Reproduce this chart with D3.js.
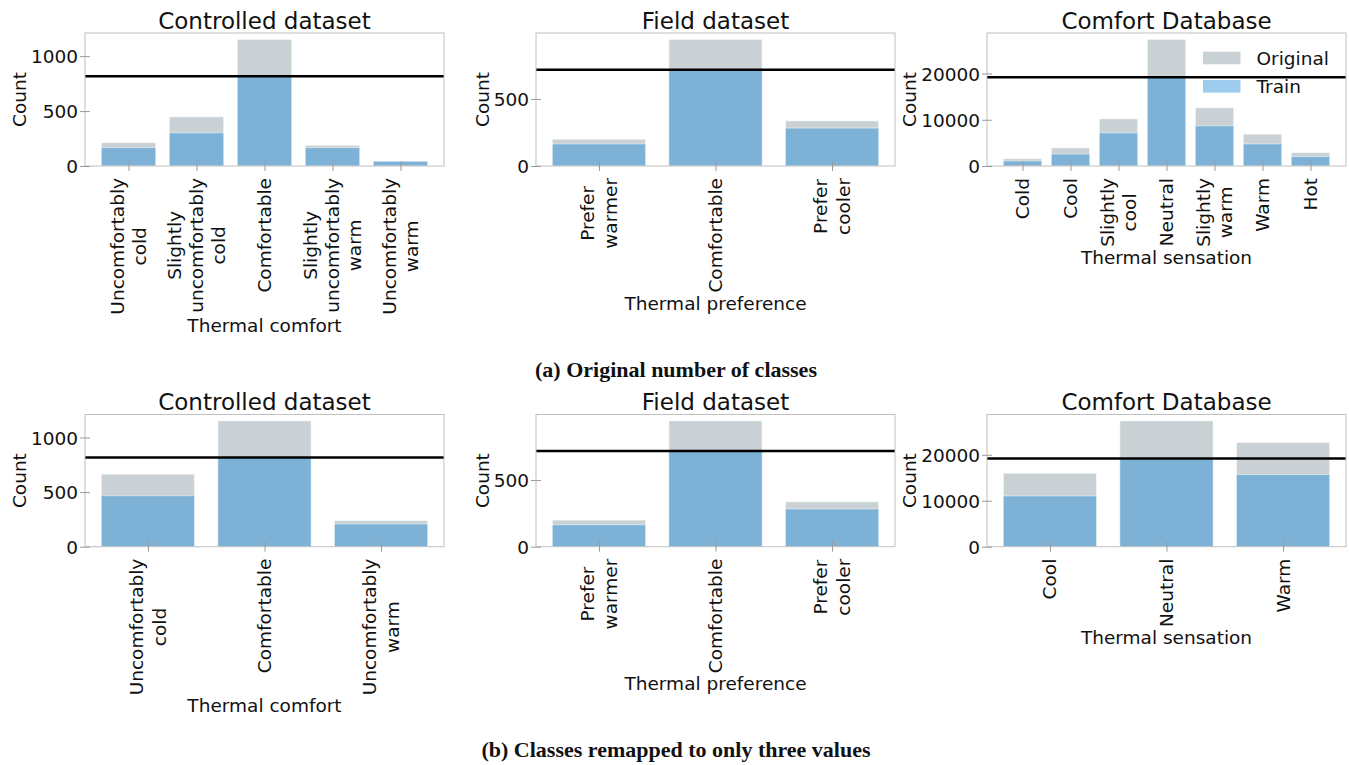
<!DOCTYPE html>
<html>
<head>
<meta charset="utf-8">
<script src="https://cdn.jsdelivr.net/npm/d3@7/dist/d3.min.js"></script>
<style>
  html, body { margin: 0; padding: 0; background: #fff; }
  svg { display: block; }
  text { font-family: "DejaVu Sans", sans-serif; fill: #111; }
</style>
</head>
<body>
<svg id="chart" width="1349" height="765"></svg>
<script>
// ---------------- data ----------------
const comfortCats = ["Uncomfortably\ncold", "Slightly\nuncomfortably\ncold", "Comfortable", "Slightly\nuncomfortably\nwarm", "Uncomfortably\nwarm"];
const comfortOrig = [213, 448, 1153, 189, 43];
const comfortTrain = [167, 302, 817, 167, 43];
const comfortThreshold = 817;

const prefCats = ["Prefer\nwarmer", "Comfortable", "Prefer\ncooler"];
const prefOrig = [200, 945, 337];
const prefTrain = [165, 718, 283];
const prefThreshold = 718;

const sensCats = ["Cold", "Cool", "Slightly\ncool", "Neutral", "Slightly\nwarm", "Warm", "Hot"];
const sensOrig = [1590, 3913, 10217, 27391, 12609, 6884, 2899];
const sensTrain = [1090, 2609, 7174, 19196, 8696, 4783, 2029];
const sensThreshold = 19196;

const comfort3Cats = ["Uncomfortably\ncold", "Comfortable", "Uncomfortably\nwarm"];
const comfort3Orig = [665, 1153, 240];
const comfort3Train = [467, 817, 208];

const pref3Cats = ["Prefer\nwarmer", "Comfortable", "Prefer\ncooler"];
const pref3Orig = [200, 945, 337];
const pref3Train = [165, 718, 283];

const sens3Cats = ["Cool", "Neutral", "Warm"];
const sens3Orig = [16000, 27391, 22700];
const sens3Train = [11050, 19196, 15700];

const comfortTicks = [0, 500, 1000];
const prefTicks = [0, 500];
const sensTicks = [0, 10000, 20000];

const titles = ["Controlled dataset", "Field dataset", "Comfort Database"];
const xLabels = ["Thermal comfort", "Thermal preference", "Thermal sensation"];
const yLabel = "Count";
const legendLabels = ["Original", "Train"];
const captions = ["(a) Original number of classes", "(b) Classes remapped to only three values"];

// ---------------- style ----------------
const COL_ORIG = "#c9d1d4";
const COL_TRAIN = "#7db2d6";
const COL_TRAIN_LEGEND = "#9ccbee";
const FS = 18.5;
const TFS = 23;

const svg = d3.select("#chart");

const panelLefts = [85, 536, 987];
const panelW = 359;
const rows = [
  { top: 33, bottom: 166, caption: captions[0], capY: 377,
    panels: [
      { cats: comfortCats, orig: comfortOrig, train: comfortTrain, thr: comfortThreshold, ticks: comfortTicks },
      { cats: prefCats, orig: prefOrig, train: prefTrain, thr: prefThreshold, ticks: prefTicks },
      { cats: sensCats, orig: sensOrig, train: sensTrain, thr: sensThreshold, ticks: sensTicks, legend: true }
    ] },
  { top: 414.5, bottom: 546.7, caption: captions[1], capY: 757,
    panels: [
      { cats: comfort3Cats, orig: comfort3Orig, train: comfort3Train, thr: comfortThreshold, ticks: comfortTicks },
      { cats: pref3Cats, orig: pref3Orig, train: pref3Train, thr: prefThreshold, ticks: prefTicks },
      { cats: sens3Cats, orig: sens3Orig, train: sens3Train, thr: sensThreshold, ticks: sensTicks }
    ] }
];

rows.forEach(row => {
  const h = row.bottom - row.top;
  row.panels.forEach((p, pi) => {
    const left = panelLefts[pi];
    const g = svg.append("g").attr("transform", `translate(${left},${row.top})`);
    const n = p.cats.length;
    const m = 0.05 * (n - 1 + 0.8);
    const x = d3.scaleLinear().domain([-0.4 - m, n - 1 + 0.4 + m]).range([0, panelW]);
    const y = d3.scaleLinear().domain([0, d3.max(p.orig) * 1.05]).range([h, 0]);
    const idx = d3.range(n);

    // bars
    g.selectAll(".orig").data(idx).join("rect")
      .attr("x", i => x(i - 0.4)).attr("width", x(0.8) - x(0))
      .attr("y", i => y(p.orig[i])).attr("height", i => y(0) - y(p.orig[i]))
      .attr("fill", COL_ORIG).attr("stroke", "#ffffff").attr("stroke-opacity", 0.6).attr("stroke-width", 1);
    g.selectAll(".train").data(idx).join("rect")
      .attr("x", i => x(i - 0.4)).attr("width", x(0.8) - x(0))
      .attr("y", i => y(p.train[i])).attr("height", i => y(0) - y(p.train[i]))
      .attr("fill", COL_TRAIN).attr("stroke", "#ffffff").attr("stroke-opacity", 0.5).attr("stroke-width", 1);

    // threshold line
    g.append("line").attr("x1", 0).attr("x2", panelW)
      .attr("y1", y(p.thr)).attr("y2", y(p.thr))
      .attr("stroke", "#000").attr("stroke-width", 2.6);

    // frame
    g.append("rect").attr("x", 0).attr("y", 0).attr("width", panelW).attr("height", h)
      .attr("fill", "none").attr("stroke", "#c0c0c0").attr("stroke-width", 1);

    // y axis
    const ya = g.append("g").call(d3.axisLeft(y).tickValues(p.ticks).tickSize(5).tickPadding(2).tickFormat(d3.format("d")));
    ya.select(".domain").remove();
    ya.selectAll(".tick line").attr("x1", -5).attr("x2", 5).attr("stroke", "#9a9a9a");
    ya.selectAll(".tick text").attr("font-size", FS).attr("font-family", "DejaVu Sans").attr("fill", "#111").attr("dy", "0.36em");

    // x axis (ticks only; labels drawn as rotated multi-line text)
    const xa = g.append("g").attr("transform", `translate(0,${h})`)
      .call(d3.axisBottom(x).tickValues(idx).tickSize(5).tickFormat(""));
    xa.select(".domain").remove();
    xa.selectAll(".tick line").attr("y1", -5).attr("y2", 5).attr("stroke", "#9a9a9a");

    const labelTop = h + 12;
    let maxBottom = labelTop;
    idx.forEach(i => {
      const lines = p.cats[i].split("\n");
      const k = lines.length;
      const L = FS * 1.2;
      const tg = g.append("g");
      const texts = lines.map((ln, j) => tg.append("text")
        .attr("font-size", FS).attr("text-anchor", "middle")
        .attr("dominant-baseline", "central")
        .text(ln));
      const maxLen = d3.max(texts, t => t.node().getComputedTextLength());
      const cy = labelTop + maxLen / 2;
      texts.forEach((t, j) => {
        const cx = x(i) + (j - (k - 1) / 2) * L;
        t.attr("transform", `translate(${cx},${cy}) rotate(-90)`);
      });
      maxBottom = Math.max(maxBottom, labelTop + maxLen);
    });

    // x label
    g.append("text").attr("x", panelW / 2).attr("y", maxBottom + 17)
      .attr("text-anchor", "middle").attr("font-size", FS).text(xLabels[pi]);

    // y label
    let minX = 0;
    ya.selectAll(".tick text").each(function() {
      const b = this.getBBox();
      minX = Math.min(minX, b.x);
    });
    g.append("text").attr("transform", `translate(${minX - 5},${h / 2}) rotate(-90)`)
      .attr("text-anchor", "middle").attr("font-size", FS).text(yLabel);

    // title
    g.append("text").attr("x", panelW / 2).attr("y", -4.5)
      .attr("text-anchor", "middle").attr("font-size", TFS).text(titles[pi]);

    // legend
    if (p.legend) {
      const lg = g.append("g").attr("transform", `translate(${panelW - 143},0)`);
      const cols = [COL_ORIG, COL_TRAIN_LEGEND];
      legendLabels.forEach((lab, j) => {
        const yy = 25 + j * 28.3;
        lg.append("rect").attr("x", 0).attr("y", yy - 6.3).attr("width", 37.5).attr("height", 12.6).attr("fill", cols[j]);
        lg.append("text").attr("x", 53.5).attr("y", yy).attr("dominant-baseline", "central")
          .attr("font-size", FS).text(lab);
      });
    }
  });

  svg.append("text").attr("x", 676).attr("y", row.capY).attr("text-anchor", "middle")
    .attr("font-weight", "bold").attr("font-size", 22)
    .style("font-family", "'Liberation Serif', serif")
    .text(row.caption);
});
</script>
</body>
</html>
